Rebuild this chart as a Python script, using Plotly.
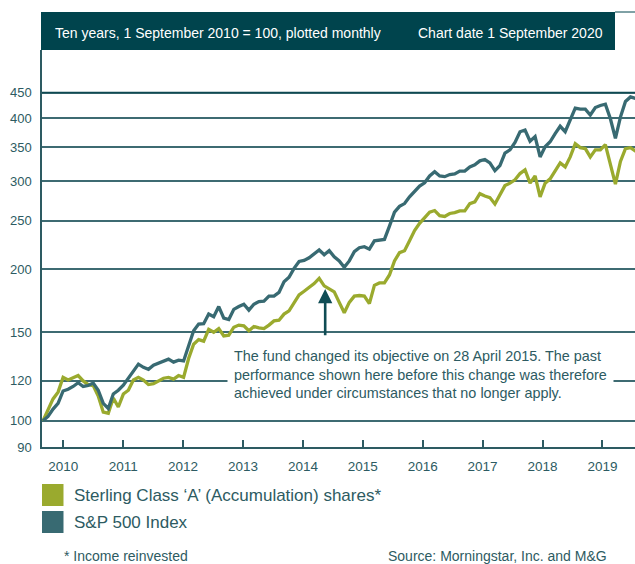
import plotly.graph_objects as go

# monthly index values, 1 September 2010 = 100
months = list(range(121))

sterling = [
    100, 105.5, 110.5, 114, 122, 120.5, 121.5, 123, 120, 118,
    117.5, 112, 104, 103.5, 111, 106.5, 113, 115, 120.5, 122,
    120.5, 118, 118.5, 120, 121.5, 122, 121, 123, 122, 133,
    142, 145, 144, 152, 150, 152.5, 147.5, 148, 153.5, 155,
    154.5, 151, 154, 153, 152.5, 155, 158, 158.5, 163, 165.5,
    172, 178, 181, 184, 187.5, 192, 185.5, 183, 180.5, 172,
    164, 172, 177, 177.5, 177, 171, 186, 188, 188, 195,
    208, 216, 218, 228, 239, 247, 253.5, 260, 262, 256,
    255, 258.5, 259.6, 261.5, 261.5, 270.5, 272.7, 283, 280, 278,
    270, 281.5, 293.7, 297, 301.5, 310.4, 315.6, 297, 307, 279,
    297, 303, 313.3, 326, 320, 335, 356, 349.5, 348, 335,
    346, 346, 354.5, 322, 295.6, 328, 348, 349.5, 344, 346,
    350,
]

sp500 = [
    100, 102, 105.5, 108.3, 114.6, 115.5, 117, 119, 117, 117.5,
    118.8, 115, 108.3, 105.8, 113, 115, 117.7, 121.5, 126, 129.6,
    127.7, 126.6, 129, 130.2, 131.5, 132.6, 130.8, 132, 131.5, 141.4,
    151, 155.7, 156, 163, 161, 168.7, 160, 159, 166.6, 168.7,
    170.5, 166, 170.5, 172.6, 173, 177, 177, 180, 189, 193,
    201, 207.5, 208.5, 211, 215, 218.7, 214, 218, 212, 208,
    202, 208, 217, 221, 222, 219.5, 228, 229, 229.5, 244,
    260, 267, 270.5, 279, 286, 293, 297.5, 307, 313, 307,
    306, 309, 310, 314, 314, 320, 323, 329, 331, 326,
    314.5, 322, 341, 346, 358, 376, 379, 360, 367.6, 335,
    351, 359, 372.6, 385.5, 376, 396, 419, 417, 417, 406,
    420, 424, 426.5, 399, 364.7, 402, 432, 441, 438, 445,
    452,
]

series_names = ["Sterling Class \u2018A\u2019 (Accumulation) shares*", "S&P 500 Index"]
year_labels = [str(y) for y in range(2010, 2020)]
y_ticks = [88.66, 100, 120, 150, 200, 250, 300, 350, 400, 450]
y_tick_text = ["90", "100", "120", "150", "200", "250", "300", "350", "400", "450"]

OLIVE = "#9aaa2e"
TEAL = "#386a72"
DARK = "#00444d"
TEXT = "#2d5b62"
FONT = "Liberation Sans, Arial, sans-serif"

W, H = 635, 564

fig = go.Figure()
fig.add_trace(go.Scatter(x=months, y=sterling, mode="lines", name=series_names[0],
                         line=dict(color=OLIVE, width=3.3)))
fig.add_trace(go.Scatter(x=months, y=sp500, mode="lines", name=series_names[1],
                         line=dict(color=TEAL, width=3.3)))

# pixel -> paper coordinates (plot area is 42..635 x 50..447)
def px(x):
    return (x - 42) / 593.0


def py(y):
    return (447 - y) / 397.0


shapes = [
    dict(type="rect", xref="paper", yref="paper", x0=px(41), x1=px(615), y0=py(50), y1=py(12),
         fillcolor=DARK, line=dict(width=0)),
    dict(type="line", xref="paper", yref="paper", x0=px(615), x1=1, y0=py(12), y1=py(12),
         line=dict(color=DARK, width=1)),
    dict(type="line", xref="paper", yref="paper", x0=0, x1=1, y0=py(92.5), y1=py(92.5),
         line=dict(color="#0f4a52", width=1.5)),
    dict(type="rect", xref="paper", yref="paper", x0=px(42), x1=px(63.5), y0=py(506), y1=py(484),
         fillcolor=OLIVE, line=dict(width=0)),
    dict(type="rect", xref="paper", yref="paper", x0=px(42), x1=px(63.5), y0=py(533), y1=py(511),
         fillcolor=TEAL, line=dict(width=0)),
]

annotations = [
    dict(xref="paper", yref="paper", x=px(53), y=py(33), xanchor="left", yanchor="middle",
         text="Ten years, 1 September 2010 = 100, plotted monthly", showarrow=False,
         font=dict(family=FONT, size=14, color="white")),
    dict(xref="paper", yref="paper", x=px(605), y=py(33), xanchor="right", yanchor="middle",
         text="Chart date 1 September 2020", showarrow=False,
         font=dict(family=FONT, size=14, color="white")),
    dict(xref="paper", yref="paper", x=px(72), y=py(495), xanchor="left", yanchor="middle",
         text=series_names[0], showarrow=False, font=dict(family=FONT, size=17, color=TEXT)),
    dict(xref="paper", yref="paper", x=px(72), y=py(522), xanchor="left", yanchor="middle",
         text=series_names[1], showarrow=False, font=dict(family=FONT, size=17, color=TEXT)),
    dict(xref="paper", yref="paper", x=px(62), y=py(556), xanchor="left", yanchor="middle",
         text="* Income reinvested", showarrow=False, font=dict(family=FONT, size=14, color=TEXT)),
    dict(xref="paper", yref="paper", x=px(609), y=py(556), xanchor="right", yanchor="middle",
         text="Source: Morningstar, Inc. and M&G", showarrow=False,
         font=dict(family=FONT, size=14, color=TEXT)),
    # objective change note
    dict(xref="paper", yref="paper", x=px(227), y=py(341), xanchor="left", yanchor="top",
         align="left", showarrow=False, bgcolor="white", borderpad=6,
         text="The fund changed its objective on 28 April 2015. The past<br>"
              "performance shown here before this change was therefore<br>"
              "achieved under circumstances that no longer apply.",
         font=dict(family=FONT, size=14.4, color=TEXT)),
    # arrow at 28 April 2015
    dict(x=56.2, y=2.262, xref="x", yref="y", ax=56.2, ay=2.167, axref="x", ayref="y",
         text="", showarrow=True, arrowhead=2, arrowsize=1.1, arrowwidth=2.6, arrowcolor="#0f4c54"),
]

fig.update_layout(
    width=W, height=H,
    margin=dict(l=42, r=0, t=50, b=H - 447),
    paper_bgcolor="white", plot_bgcolor="white",
    showlegend=False,
    font=dict(family=FONT, color=TEXT),
    shapes=shapes, annotations=annotations,
    xaxis=dict(range=[-0.2, 117.9], tickvals=[4.04 + 11.93 * i for i in range(10)],
               ticktext=year_labels, ticks="inside", ticklen=7, tickwidth=1.5, tickcolor=TEXT,
               showline=True, linecolor=TEXT, linewidth=1.5, showgrid=False, zeroline=False,
               tickfont=dict(family=FONT, size=13.5, color=TEXT), ticklabelstandoff=6),
    yaxis=dict(type="log", range=[1.9477, 2.7378], tickvals=y_ticks, ticktext=y_tick_text,
               showline=True, linecolor=TEXT, linewidth=1.5, showgrid=True,
               gridcolor="#3e6b72", gridwidth=1.5, zeroline=False, ticks="",
               tickfont=dict(family=FONT, size=13, color=TEXT), ticklabelstandoff=6),
)

# drop the default page margin so the 635x564 figure fills the window
fig.write_html("out.html", config={"displayModeBar": False},
               post_script="document.body.style.margin='0';document.body.style.overflow='hidden';")
